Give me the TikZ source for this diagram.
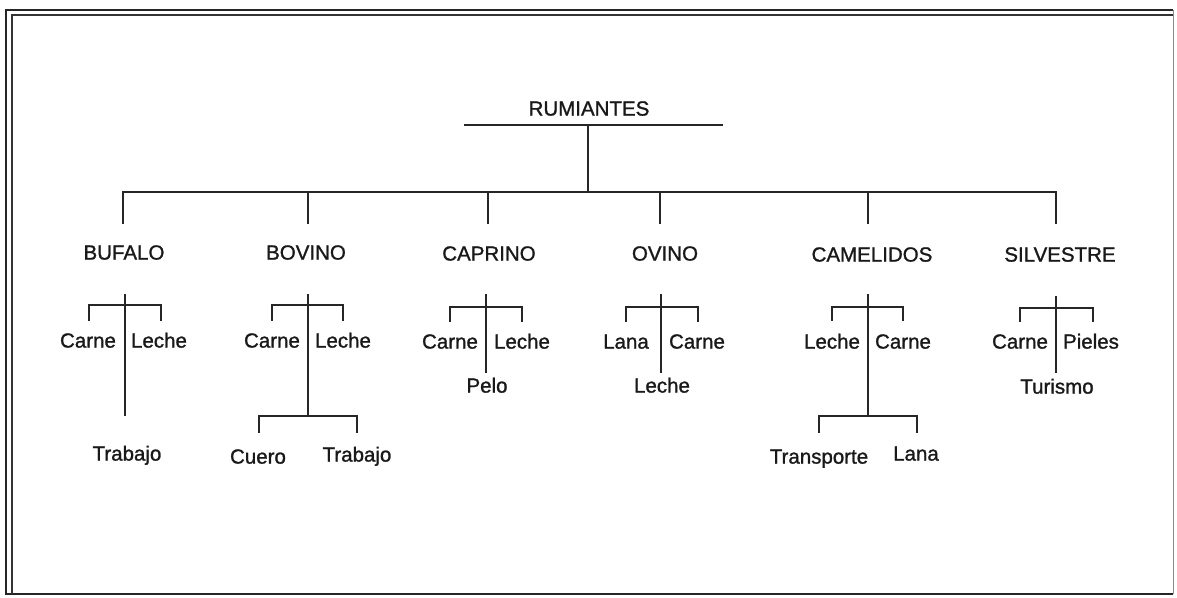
\documentclass[tikz,border=0pt]{standalone}
\usepackage{fontspec}
\setmainfont{Liberation Sans}[FakeBold=1.2]
\newfontfamily\heavysans{Liberation Sans}[FakeBold=1.2]
\begin{document}
\begin{tikzpicture}[x=1pt,y=-1pt,
  lbl/.style={font=\heavysans\fontsize{20.5}{24}\selectfont, text height=0.72em, text depth=0pt, inner sep=0pt, text=black!90},
  ln/.style={line width=1.8pt, line cap=rect, black!85},
  frm/.style={line width=2.2pt, black!85}]
\useasboundingbox (0,0) rectangle (1177,597);
% frame
\coordinate (f1) at (6,594); \coordinate (f2) at (6,10); \coordinate (f3) at (1173,10); \coordinate (f4) at (1173,594);
\coordinate (g1) at (12,594); \coordinate (g2) at (12,15); \coordinate (g3) at (1173,15);
\draw[frm] (f4) -- (f1) -- (f2) -- (f3);
\draw[line width=1.5pt, black!80] (g1) -- (g2) -- (g3);
\draw[line width=0.8pt, black!45] (f3) -- (f4);

% root
\node[lbl] (rum) at (589,112) {RUMIANTES};
\coordinate (rumL) at (465,125); \coordinate (rumR) at (722,125);
\coordinate (rumJ) at (588,125); \coordinate (hub) at (588,192);
\coordinate (hL) at (123,192); \coordinate (hR) at (1056,192);
\draw[ln] (rumL) -- (rumR);
\draw[ln] (rumJ) -- (hub);
\draw[ln] (hL) -- (hR);
\foreach \n/\x in {a/123,b/308,c/488,d/660,e/868,f/1056}{
  \coordinate (d\n) at (\x,192); \coordinate (e\n) at (\x,223);
  \draw[ln] (d\n) -- (e\n);
}

% category labels
\node[lbl] (buf) at (124,256) {BUFALO};
\node[lbl] (bov) at (306,256) {BOVINO};
\node[lbl] (cap) at (489,257) {CAPRINO};
\node[lbl] (ovi) at (665,257) {OVINO};
\node[lbl] (cam) at (872,258) {CAMELIDOS};
\node[lbl] (sil) at (1060,258) {SILVESTRE};

% BUFALO
\coordinate (bufT) at (125,295); \coordinate (bufB) at (125,415);
\draw[ln] (bufT) -- (bufB);
\coordinate (bufL) at (89,305); \coordinate (bufR) at (161,305);
\coordinate (bufLt) at (89,320); \coordinate (bufRt) at (161,320);
\draw[ln] (bufLt) -- (bufL) -- (bufR) -- (bufRt);
\node[lbl] (buf1) at (88,344) {Carne};
\node[lbl] (buf2) at (159,344) {Leche};
\node[lbl] (buf3) at (127,457) {Trabajo};

% BOVINO
\coordinate (bovT) at (308,295); \coordinate (bovB) at (308,416);
\draw[ln] (bovT) -- (bovB);
\coordinate (bovL) at (272,305); \coordinate (bovR) at (343,305);
\coordinate (bovLt) at (272,320); \coordinate (bovRt) at (343,320);
\draw[ln] (bovLt) -- (bovL) -- (bovR) -- (bovRt);
\coordinate (bovL2) at (259,416); \coordinate (bovR2) at (357,416);
\coordinate (bovL2t) at (259,432); \coordinate (bovR2t) at (357,432);
\draw[ln] (bovL2t) -- (bovL2) -- (bovR2) -- (bovR2t);
\node[lbl] (bov1) at (272,344) {Carne};
\node[lbl] (bov2) at (343,344) {Leche};
\node[lbl] (bov3) at (258,460) {Cuero};
\node[lbl] (bov4) at (357,458) {Trabajo};

% CAPRINO
\coordinate (capT) at (486,295); \coordinate (capB) at (486,372);
\draw[ln] (capT) -- (capB);
\coordinate (capL) at (450,307); \coordinate (capR) at (522,307);
\coordinate (capLt) at (450,321); \coordinate (capRt) at (522,321);
\draw[ln] (capLt) -- (capL) -- (capR) -- (capRt);
\node[lbl] (cap1) at (450,345) {Carne};
\node[lbl] (cap2) at (522,345) {Leche};
\node[lbl] (cap3) at (487,389) {Pelo};

% OVINO
\coordinate (oviT) at (661,295); \coordinate (oviB) at (661,372);
\draw[ln] (oviT) -- (oviB);
\coordinate (oviL) at (626,307); \coordinate (oviR) at (698,307);
\coordinate (oviLt) at (626,321); \coordinate (oviRt) at (698,321);
\draw[ln] (oviLt) -- (oviL) -- (oviR) -- (oviRt);
\node[lbl] (ovi1) at (626,345) {Lana};
\node[lbl] (ovi2) at (697,345) {Carne};
\node[lbl] (ovi3) at (662,389) {Leche};

% CAMELIDOS
\coordinate (camT) at (868,295); \coordinate (camB) at (868,416);
\draw[ln] (camT) -- (camB);
\coordinate (camL) at (832,307); \coordinate (camR) at (903,307);
\coordinate (camLt) at (832,320); \coordinate (camRt) at (903,320);
\draw[ln] (camLt) -- (camL) -- (camR) -- (camRt);
\coordinate (camL2) at (819,416); \coordinate (camR2) at (917,416);
\coordinate (camL2t) at (819,432); \coordinate (camR2t) at (917,432);
\draw[ln] (camL2t) -- (camL2) -- (camR2) -- (camR2t);
\node[lbl] (cam1) at (832,345) {Leche};
\node[lbl] (cam2) at (903,345) {Carne};
\node[lbl] (cam3) at (819,460) {Transporte};
\node[lbl] (cam4) at (916,457) {Lana};

% SILVESTRE
\coordinate (silT) at (1056,297); \coordinate (silB) at (1056,372);
\draw[ln] (silT) -- (silB);
\coordinate (silL) at (1020,308); \coordinate (silR) at (1093,308);
\coordinate (silLt) at (1020,321); \coordinate (silRt) at (1093,321);
\draw[ln] (silLt) -- (silL) -- (silR) -- (silRt);
\node[lbl] (sil1) at (1020,345) {Carne};
\node[lbl] (sil2) at (1091,345) {Pieles};
\node[lbl] (sil3) at (1057,390) {Turismo};
\end{tikzpicture}
\end{document}
